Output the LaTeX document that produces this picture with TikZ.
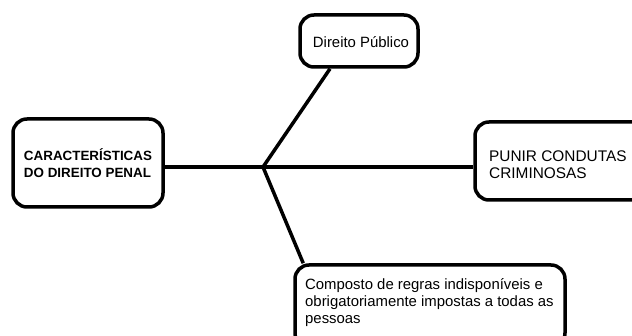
\documentclass[tikz,border=0pt]{standalone}
\usepackage{fontspec}
\setmainfont{Liberation Sans}
\begin{document}
\begin{tikzpicture}[x=1pt,y=-1pt,
  box/.style={draw=black,line width=3.5pt,rounded corners=14pt,fill=white,inner sep=0pt},
  conn/.style={draw=black,line width=3.5pt},
  txt/.style={inner sep=0pt,align=left,font=\fontsize{14.9}{17}\selectfont,text=black}]
\useasboundingbox (0,0) rectangle (632,336);
% boxes
\node[box,minimum width=150pt,minimum height=88pt] (left) at (88,163) {};
\node[box,minimum width=118pt,minimum height=52pt] (top) at (359,41) {};
\node[box,minimum width=190pt,minimum height=78pt] (right) at (570,161) {};
\node[box,minimum width=270pt,minimum height=82pt] (bot) at (430,306) {};
% texts
\node[txt,font=\bfseries\fontsize{13.4}{17}\selectfont] (lt) at (88,163) {CARACTERÍSTICAS\\DO DIREITO PENAL};
\node[txt] (tt) at (361,42) {Direito Público};
\node[txt,anchor=west,font=\fontsize{15.4}{17}\selectfont] (rt) at (489,165) {PUNIR CONDUTAS\\CRIMINOSAS};
\node[txt,anchor=west] (bt) at (305,303) {Composto de regras indisponíveis e\\obrigatoriamente impostas a todas as\\pessoas};
% connectors
\coordinate (j) at (263,167);
\draw[conn] (left.east |- j) -- (j) -- (right.west |- j);
\draw[conn,line join=round] ([xshift=-29pt]top.south) -- (j) -- ([xshift=10pt]bot.north west);
\end{tikzpicture}
\end{document}
